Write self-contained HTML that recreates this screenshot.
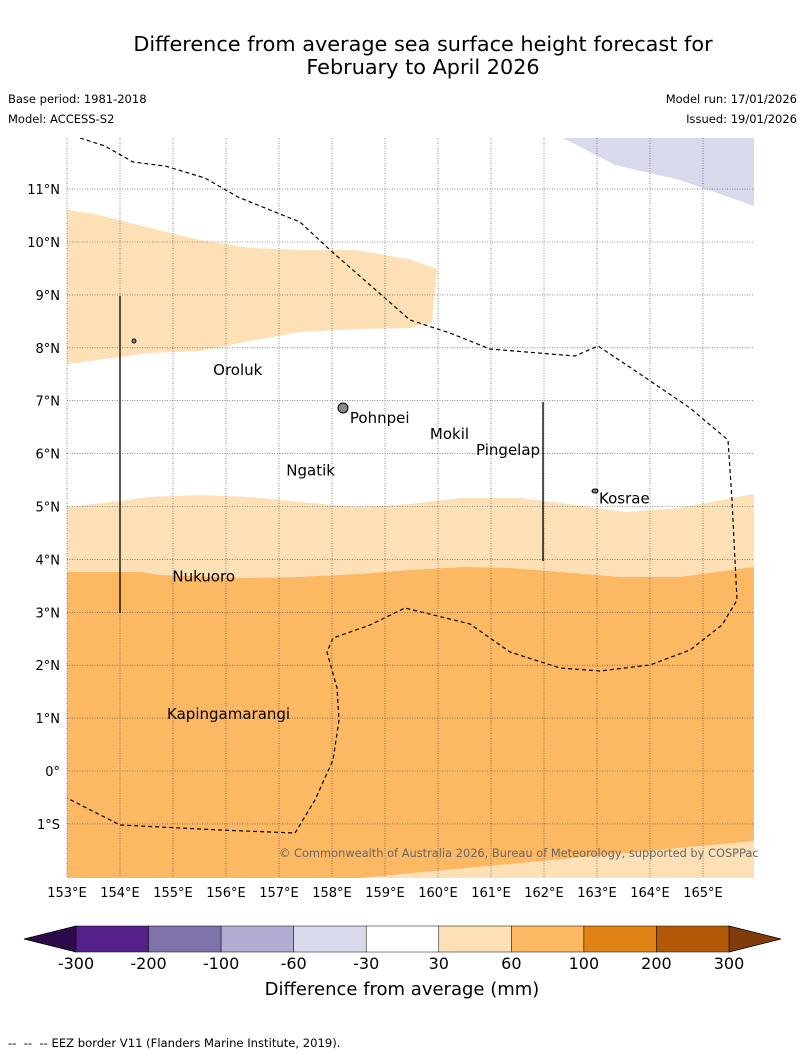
<!DOCTYPE html>
<html><head><meta charset="utf-8">
<style>
body{margin:0;background:#fff;width:804px;height:1058px;overflow:hidden;font-family:"DejaVu Sans","Liberation Sans",sans-serif}
.t{position:absolute;font-size:11.5px;color:#000}
</style></head><body>
<div style="position:absolute;left:0;width:846px;top:33px;text-align:center;font-size:20.8px;line-height:23px;font-family:'DejaVu Sans',sans-serif">Difference from average sea surface height forecast for<br>February to April 2026</div>
<div class="t" style="left:8px;top:92px">Base period: 1981-2018</div>
<div class="t" style="left:8px;top:112px">Model: ACCESS-S2</div>
<div class="t" style="right:7px;top:92px">Model run: 17/01/2026</div>
<div class="t" style="right:7px;top:112px">Issued: 19/01/2026</div>
<svg id="map" width="804" height="1058" style="position:absolute;left:0;top:0" font-family="DejaVu Sans, sans-serif"></svg>
<div class="t" style="left:8px;top:1036px;font-size:11.6px">-- &nbsp;-- &nbsp;-- EEZ border V11 (Flanders Marine Institute, 2019).</div>
<script>
const lonTicks=[153,154,155,156,157,158,159,160,161,162,163,164,165];
const latTicks=[11,10,9,8,7,6,5,4,3,2,1,0,-1];
const cbLabels=["-300","-200","-100","-60","-30","30","60","100","200","300"];
const cbColors=["#54218a","#8073ac","#b2abd2","#d8daeb","#ffffff","#fee0b6","#fdb863","#e08214","#b35806"];
const places=[["Oroluk",155.72,7.6],["Pohnpei",158.3,6.69],["Mokil",159.81,6.39],["Pingelap",160.68,6.09],["Ngatik",157.1,5.7],["Kosrae",163.0,5.17],["Nukuoro",154.95,3.7],["Kapingamarangi",154.85,1.1]];
const X=l=>67+53*(l-153), Y=a=>771-52.9*a;
const svg=document.getElementById('map');const NS="http://www.w3.org/2000/svg";
function mk(t,a,p){const el=document.createElementNS(NS,t);for(const k in a)el.setAttribute(k,a[k]);(p||svg).appendChild(el);return el;}
const clip=mk('clipPath',{id:'c'});mk('rect',{x:67,y:138,width:687,height:740},clip);
const g=mk('g',{'clip-path':'url(#c)'});
function poly(pts,fill,name){const el=mk('polygon',{points:pts.map(p=>p.join(',')).join(' '),fill:fill},g);}
const edgeTop=[[67,507],[120,501],[150,497],[200,495],[250,497],[300,502],[360,507],[410,504],[460,498],[520,498],[560,503],[625,512],[680,508],[754,494]];
const edgeMid=[[67,572],[140,572],[160,575],[240,578],[300,577],[360,574],[410,570],[465,567],[510,568],[560,572],[620,577],[680,577],[754,567]];
poly(edgeTop.concat([[754,878],[67,878]]),"#fee0b6","anomaly-30-60-band");
poly(edgeMid.concat([[754,878],[67,878]]),"#fdb863","anomaly-60-100-region");
poly([[360,878],[754,841],[754,878]],"#fee0b6","anomaly-30-60-south");
poly([[67,210],[95,214],[150,228],[200,240],[250,248],[300,250],[355,250],[408,259],[437,269],[432,322],[410,328],[360,329],[300,332],[250,341],[200,351],[150,353],[67,364]],"#fee0b6","anomaly-30-60-north");
poly([[563,138],[615,165],[680,180],[754,206],[754,138]],"#d8daeb","anomaly-neg-region");
lonTicks.forEach(l=>{const x=X(l);const ln=mk('line',{x1:x,x2:x,y1:138,y2:878,stroke:'#444','stroke-width':0.6,'stroke-dasharray':'1,1.5'});


const t=mk('text',{x:x,y:897,'text-anchor':'middle','font-size':13});t.textContent=l+'°E';

});
latTicks.forEach(a=>{const y=Y(a);const ln=mk('line',{x1:67,x2:754,y1:y,y2:y,stroke:'#444','stroke-width':0.6,'stroke-dasharray':'1,1.5'});


const t=mk('text',{x:60,y:y+5,'text-anchor':'end','font-size':13});t.textContent=a===0?'0°':Math.abs(a)+'°'+(a>0?'N':'S');

});
const eez=[[80,138],[105,146],[133,162],[165,166],[205,178],[238,197],[270,210],[300,222],[330,250],[370,285],[410,320],[450,333],[490,349],[575,356],[598,346],[640,374],[690,408],[728,440],[732,500],[737,600],[722,625],[690,650],[650,665],[600,671],[560,668],[510,652],[470,624],[405,608],[370,625],[333,638],[327,652],[337,688],[339,720],[333,760],[315,800],[295,833],[220,830],[120,825],[67,798]];
let e=mk('polyline',{points:eez.map(p=>p.join(',')).join(' '),fill:'none',stroke:'#000','stroke-width':1.2,'stroke-dasharray':'4,3'},g);

e=mk('line',{x1:120,x2:120,y1:296,y2:613,stroke:'#000','stroke-width':1.3});
e=mk('line',{x1:543,x2:543,y1:402,y2:561,stroke:'#000','stroke-width':1.3});
e=mk('ellipse',{cx:343,cy:408,rx:5,ry:5,fill:'#888',stroke:'#000'});
e=mk('ellipse',{cx:595,cy:491,rx:3,ry:2,fill:'#888',stroke:'#000'});
e=mk('ellipse',{cx:134,cy:341,rx:2,ry:2,fill:'#888',stroke:'#000'});
places.forEach(p=>{const t=mk('text',{x:X(p[1])+2,y:Y(p[2])+6,'font-size':15});t.textContent=p[0];

});
e=mk('text',{x:279,y:857,'font-size':11.4,fill:'#666'});e.textContent='© Commonwealth of Australia 2026, Bureau of Meteorology, supported by COSPPac';
const x0=76,x1=729,w=(x1-x0)/cbColors.length;
e=mk('polygon',{points:`24,939 ${x0},926 ${x0},952`,fill:'#2d0a4a',stroke:'#000','stroke-width':0.8});
e=mk('polygon',{points:`781,939 ${x1},926 ${x1},952`,fill:'#7f3b08',stroke:'#000','stroke-width':0.8});
cbColors.forEach((c,i)=>{const r=mk('rect',{x:x0+i*w,y:926,width:w,height:26,fill:c,stroke:'#000','stroke-width':0.5});

});
cbLabels.forEach((l,i)=>{const t=mk('text',{x:x0+i*w,y:969,'text-anchor':'middle','font-size':16});t.textContent=l;

});
e=mk('text',{x:402,y:995,'text-anchor':'middle','font-size':18});e.textContent='Difference from average (mm)';
</script>
</body></html>
